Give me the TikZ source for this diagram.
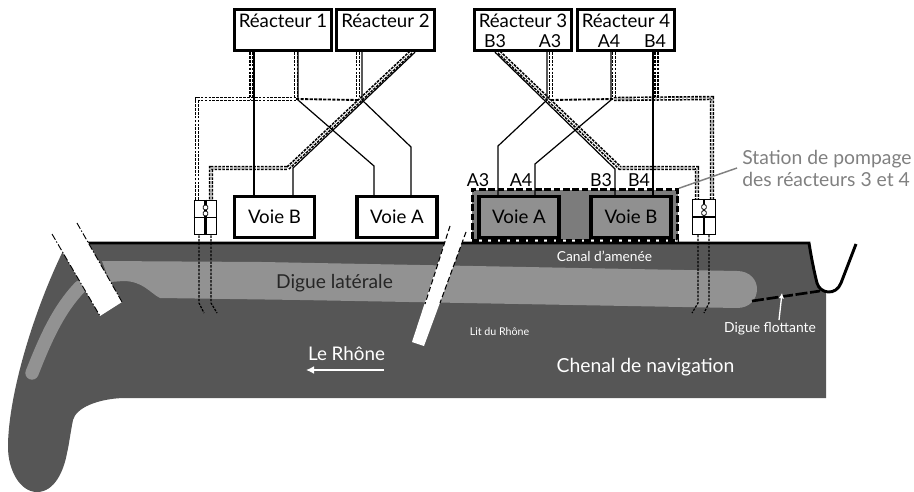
\documentclass[tikz,border=0pt]{standalone}
\usepackage{fontspec}
\setmainfont{Lato}
\usetikzlibrary{arrows.meta}
\definecolor{riverc}{HTML}{565656}
\definecolor{dikec}{HTML}{929292}
\definecolor{stationc}{HTML}{7C7C7C}
\definecolor{voiec}{HTML}{909090}
\definecolor{leaderc}{HTML}{808080}
\tikzset{
  reactor/.style={draw=black,fill=white,line width=2.3pt,minimum width=73pt,minimum height=31pt,inner sep=0pt,align=center,font=\fontsize{14}{15}\selectfont},
  voie/.style={draw=black,line width=2.3pt,minimum width=60pt,minimum height=31pt,inner sep=0pt,font=\fontsize{14}{15}\selectfont},
  pump/.style={draw=black,fill=white,line width=.8pt,minimum width=17pt,minimum height=26pt,inner sep=0pt},
  valve/.style={draw=black,fill=white,line width=.6pt,minimum width=3.5pt,minimum height=3.5pt,inner sep=0pt,rounded corners=1pt},
  port/.style={inner sep=0pt,font=\fontsize{13.4}{15}\selectfont},
  wire/.style={line width=.9pt},
  cable/.style={line width=1.25pt,double,double distance=.8pt,dash pattern=on 2pt off .9pt},
  bus/.style={line width=1.4pt,dash pattern=on 2.4pt off 1pt},
  pipe/.style={line width=.9pt,dash pattern=on 1.8pt off 1pt},
  whitetext/.style={text=white,inner sep=0pt}
}
\begin{document}
\begin{tikzpicture}[x=.75pt,y=-.75pt]
  \useasboundingbox (0,0) rectangle (914,492);

  % river and dike
  \fill[riverc] (87,243) -- (809,243) -- (817,285) -- (826,291) -- (826,398) -- (123,398)
    .. controls (97,399) and (76,408) .. (73,420)
    .. controls (70,435) and (69,445) .. (67,453)
    .. controls (64,470) and (55,492) .. (37,492)
    .. controls (20,492) and (8,470) .. (8,447)
    .. controls (8,400) and (30,320) .. (62,253) -- cycle;
  \fill[dikec] (102,261) -- (262,262) -- (737,271)
    .. controls (750,271) and (757,280) .. (757,289)
    .. controls (757,299) and (750,308) .. (737,308)
    -- (300,300) -- (160,298)
    .. controls (150,293) and (143,281) .. (123,281) -- (110,282) -- cycle;
  \draw[dikec,line width=10pt,line cap=round] (80,287) .. controls (58,310) and (45,340) .. (32,373);

  \draw[line width=2.2pt] (87,243) -- (809,243)
    .. controls (812,262) and (815,275) .. (817,283)
    .. controls (820,294) and (836,296) .. (841,283) -- (856,244);
  \draw[line width=2pt,dash pattern=on 9pt off 2pt] (752,301) -- (820,291);

  % the two cuts
  \fill[white] (52,234) -- (77,223) -- (122,302) -- (100,316) -- cycle;
  \draw[line width=.7pt,dash pattern=on 5pt off 1.5pt on 1pt off 1.5pt] (52,234) -- (100,316);
  \draw[line width=.7pt,dash pattern=on 5pt off 1.5pt on 1pt off 1.5pt] (77,223) -- (122,302);
  \fill[white] (450,226) -- (466,232) -- (424,346) -- (412,342) -- cycle;
  \draw[line width=.8pt,dash pattern=on 4pt off 2pt] (450,226) -- (425,304);
  \draw[line width=.8pt,dash pattern=on 4pt off 2pt] (466,232) -- (440,303);

  % boxes
  \node[reactor] (r1) at (283,30) {Réacteur 1\\[-1pt]};
  \node[reactor] (r2) at (385.5,30) {Réacteur 2\\[-1pt]};
  \node[reactor] (r3) at (523,30) {Réacteur 3\\[-1pt]};
  \node[reactor] (r4) at (626,30) {Réacteur 4\\[-1pt]};
  \node[port] (lb3) at (495,41) {B3};
  \node[port] (la3) at (550,41) {A3};
  \node[port] (la4) at (609,41) {A4};
  \node[port] (lb4) at (655,41) {B4};

  \node[draw=black,fill=stationc,line width=2.2pt,dash pattern=on 5pt off 2pt,minimum width=154pt,minimum height=38pt,inner sep=0pt] (station) at (575,215) {};
  \node[voie,fill=white] (vb) at (274.5,217) {Voie B};
  \node[voie,fill=white] (va) at (397,217) {Voie A};
  \node[voie,fill=voiec] (va2) at (519,217) {Voie A};
  \node[voie,fill=voiec] (vb2) at (631,217) {Voie B};
  \node[pump] (pl) at (205.5,217.5) {};
  \node[pump] (pr) at (704,217) {};
  \foreach \p in {pl,pr} {
    \draw[line width=.8pt] (\p.west) -- (\p.east);
    \draw[line width=1.6pt] (\p.north) -- (\p.south);
    \node[valve] (\p a) at ([yshift=7.5pt]\p.center) {};
    \node[valve] (\p b) at ([yshift=3pt]\p.center) {};
  }

  % bends
  \coordinate (j1) at (298,100);
  \coordinate (k1) at (374,166);
  \coordinate (j2) at (362,100);
  \coordinate (k2) at (411,147);
  \coordinate (k3) at (293,168);
  \coordinate (j3) at (547,100);
  \coordinate (k4) at (498,146);
  \coordinate (j4) at (611,100);
  \coordinate (k5) at (535,164);
  \coordinate (k6) at (615,169);
  \coordinate (s1) at (254,99);
  \coordinate (s2) at (653,99);
  \coordinate (s3) at (415,53);
  \coordinate (s4) at (495,53);

  \coordinate (b1) at (197,99);
  \coordinate (b2) at (296,99);
  \coordinate (b3) at (358,100);
  \coordinate (b4) at (551,100);
  \coordinate (b5) at (614,99);
  \coordinate (b6) at (712,98);
  \coordinate (b7) at (251.5,99);
  \coordinate (b8) at (656.5,98);
  \coordinate (d1) at (411,53);
  \coordinate (d2) at (288,168);
  \coordinate (d3) at (211,168);
  \coordinate (d4) at (499,53);
  \coordinate (d5) at (620,168);
  \coordinate (d6) at (697,168);

  % cables
  \draw[cable] (r1.south -| b7) -- (b7);
  \draw[cable] (r1.south -| b2) -- (b2);
  \draw[cable] (r2.south -| b3) -- (b3);
  \draw[cable] (pl.north -| b1) -- (b1) -- (b2);
  \draw[bus] (b2) -- (b3);
  \draw[cable] (r2.south -| d1) -- (d2) -- (d3) -- (pl.north -| d3);
  \draw[cable] (r3.south -| b4) -- (b4);
  \draw[cable] (r4.south -| b5) -- (b5);
  \draw[cable] (r4.south -| b8) -- (b8);
  \draw[bus] (b4) -- (b5);
  \draw[cable] (b5) -- (b6) -- (pr.north -| b6);
  \draw[cable] (r3.south -| d4) -- (d5) -- (d6) -- (pr.north -| d6);

  % wires
  \draw[wire] (r1.south -| s1) -- (vb.north -| s1);
  \draw[wire] (r1.south -| j1) -- (j1) -- (k1) -- (va.north -| k1);
  \draw[wire] (r2.south -| j2) -- (j2) -- (k2) -- (va.north -| k2);
  \draw[wire] (r2.south -| s3) -- (k3) -- (vb.north -| k3);
  \draw[wire] (r3.south -| j3) -- (j3) -- (k4) -- (va2.north -| k4);
  \draw[wire] (r4.south -| j4) -- (j4) -- (k5) -- (va2.north -| k5);
  \draw[wire] (r3.south -| s4) -- (k6) -- (vb2.north -| k6);
  \draw[wire] (r4.south -| s2) -- (vb2.north -| s2);

  % pipes under the dike
  \coordinate (e1) at (199,303);
  \coordinate (f1) at (204,313);
  \coordinate (e2) at (211,303);
  \coordinate (f2) at (217,313);
  \coordinate (e3) at (698,303);
  \coordinate (f3) at (692,313);
  \coordinate (e4) at (709,303);
  \coordinate (f4) at (704,313);
  \foreach \p/\from/\to in {pl/e1/f1, pl/e2/f2, pr/e3/f3, pr/e4/f4}
    \draw[pipe] (\p.south -| \from) -- (\from) -- (\to);

  % labels
  \node[port] (ta3) at (478,180) {A3};
  \node[port] (ta4) at (521,180) {A4};
  \node[port] (tb3) at (601,180) {B3};
  \node[port] (tb4) at (639,180) {B4};

  \node[anchor=west,inner sep=0pt,align=left,text=leaderc,font=\fontsize{14.5}{16.5}\selectfont] (stationlabel) at (742,168) {Station de pompage\\des réacteurs 3 et 4};
  \coordinate (leaderend) at (737,168);
  \draw[leaderc,line width=1.1pt] (station.north east) -- (leaderend);

  \node[inner sep=0pt,font=\fontsize{14.4}{15}\selectfont,text=black!85] (digue) at (334.5,283) {Digue latérale};
  \node[whitetext,font=\fontsize{10.3}{10}\selectfont] (canal) at (604.5,256) {Canal d’amenée};
  \node[whitetext,font=\fontsize{8}{10}\selectfont] (lit) at (499.5,332) {Lit du Rhône};
  \node[whitetext,font=\fontsize{10.4}{10}\selectfont] (flottante) at (770,329) {Digue flottante};
  \node[whitetext,font=\fontsize{14.5}{15}\selectfont] (chenal) at (645.5,367) {Chenal de navigation};
  \node[whitetext,font=\fontsize{14.1}{15}\selectfont] (rhone) at (346.5,354) {Le Rhône};

  \coordinate (rhonea) at (384,370);
  \coordinate (rhoneb) at (306,370);
  \coordinate (flott) at (782,293);
  \coordinate (flotte) at (779,320);
  \draw[white,line width=1.6pt,-{Latex[length=6pt,width=6pt]}] (rhonea) -- (rhoneb);
  \draw[white,line width=1pt,-{Latex[length=4pt,width=4pt]}] (flotte) -- (flott);
\end{tikzpicture}
\end{document}
